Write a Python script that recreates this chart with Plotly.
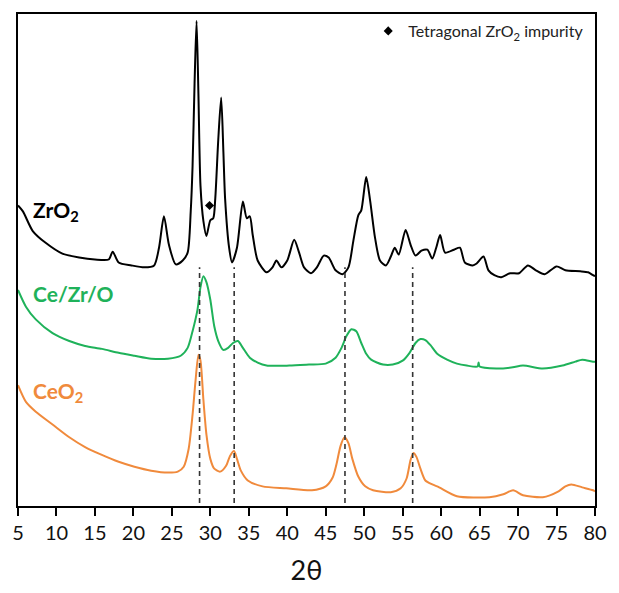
import plotly.graph_objects as go

# ---- data (2θ in degrees, intensity in arbitrary units, offset stacked) ----
zro2_x = [5.00, 5.64, 6.92, 8.59, 10.77, 12.95, 15.00, 16.79, 17.31, 18.08, 19.74, 21.41, 22.69,
          23.33, 23.97, 24.62, 25.51, 26.41, 27.05, 27.45, 27.69, 27.95, 28.21, 28.45, 28.72,
          29.10, 29.49, 30.00, 30.38, 30.64, 31.03, 31.41, 31.70, 31.92, 32.44, 32.82, 33.46,
          34.23, 34.74, 35.13, 35.51, 36.15, 37.31, 38.08, 38.59, 39.23, 40.00, 40.90, 41.54,
          42.18, 43.08, 43.85, 44.74, 45.38, 46.28, 47.18, 47.95, 48.59, 49.23, 49.62, 50.26,
          50.77, 51.41, 52.05, 52.82, 53.46, 53.97, 54.49, 55.38, 56.03, 56.67, 57.44, 58.21,
          58.85, 59.36, 59.87, 60.51, 61.67, 62.44, 63.08, 64.10, 64.62, 65.51, 66.15, 66.92,
          67.82, 68.97, 70.13, 71.28, 72.31, 73.46, 75.00, 76.15, 78.08, 79.10, 79.74, 80.00]
zro2_y = [306, 300, 280, 268, 257, 253, 251, 251, 259, 248, 245, 243, 245,
          263, 295, 266, 246, 250, 258, 300, 346, 430, 494, 420, 326,
          290, 275, 291, 293, 313, 373, 416, 360, 313, 263, 248, 263,
          310, 293, 295, 276, 250, 238, 243, 250, 243, 250, 271, 258,
          243, 237, 243, 255, 253, 240, 236, 243, 270, 296, 301, 335,
          311, 273, 250, 245, 254, 263, 256, 281, 266, 255, 260, 261,
          252, 263, 276, 258, 261, 263, 248, 245, 247, 254, 240, 235,
          233, 237, 237, 245, 240, 236, 244, 240, 239, 238, 235, 234]

cezro_x = [5.00, 6.03, 7.31, 9.49, 11.67, 13.72, 15.90, 18.08, 20.13, 22.31, 24.49, 26.15, 27.05,
           27.69, 28.33, 28.72, 29.10, 29.49, 30.00, 30.51, 31.03, 31.67, 32.31, 32.95, 33.59,
           34.23, 35.13, 36.15, 37.31, 40.26, 42.82, 45.00, 46.28, 47.05, 47.69, 48.33, 48.97,
           49.62, 50.26, 50.90, 52.44, 53.72, 55.00, 55.90, 56.67, 57.31, 57.95, 58.59, 59.49,
           60.77, 62.05, 63.33, 64.74, 64.87, 65.00, 67.18, 69.10, 70.64, 73.21, 75.77, 77.44,
           78.33, 79.74, 80.00]
cezro_y = [220, 203, 190, 176, 168, 163, 160, 156, 153, 150, 150, 153, 161,
           178, 200, 223, 234, 228, 210, 183, 168, 159, 161, 166, 168,
           161, 151, 146, 143, 143, 144, 145, 151, 161, 173, 180, 178,
           166, 155, 149, 144, 144, 148, 156, 166, 170, 169, 164, 155,
           149, 145, 143, 142, 146, 142, 140, 141, 143, 140, 143, 147,
           149, 147, 147]

ceo2_x = [5.00, 6.03, 7.31, 9.49, 11.67, 13.72, 15.90, 18.08, 20.13, 22.31, 24.49, 25.77, 26.54,
          27.18, 27.69, 28.08, 28.46, 28.72, 29.10, 29.49, 30.00, 30.51, 31.28, 32.05, 32.56,
          33.08, 33.46, 33.97, 34.87, 36.79, 39.87, 43.21, 45.00, 45.90, 46.41, 46.92, 47.44,
          47.95, 48.46, 49.23, 50.13, 51.15, 53.46, 54.74, 55.51, 56.03, 56.41, 56.79, 57.31,
          57.95, 58.85, 59.74, 62.05, 66.28, 68.08, 69.36, 70.64, 73.21, 75.26, 76.15, 76.92,
          78.33, 79.74, 80.00]
ceo2_y = [123, 106, 96, 83, 70, 60, 52, 45, 40, 36, 34, 35, 40,
          58, 93, 128, 154, 148, 108, 73, 48, 38, 35, 41, 51,
          56, 48, 36, 26, 20, 18, 16, 20, 29, 43, 61, 70,
          64, 48, 30, 20, 16, 14, 18, 28, 47, 54, 50, 38,
          26, 22, 19, 10, 9, 12, 16, 11, 9, 15, 20, 22,
          19, 16, 15]

ceo2_ref_peaks = [28.6, 33.1, 47.5, 56.3]   # dashed guide lines
guide_y = [3, 243]
impurity_x = [29.9]
impurity_y = [306]

labels = ["ZrO<sub>2</sub>", "Ce/Zr/O", "CeO<sub>2</sub>"]
label_y = [300, 216, 116]
tick_vals = list(range(5, 81, 5))

black = "#000000"
green = "#1fb25a"
orange = "#f08a3c"
FONT = "Lato"
SMOOTH = 0.7

fig = go.Figure()
for xs, ys, col in [(zro2_x, zro2_y, black), (cezro_x, cezro_y, green), (ceo2_x, ceo2_y, orange)]:
    fig.add_trace(go.Scatter(x=xs, y=ys, mode="lines",
                             line=dict(color=col, width=2, shape="spline", smoothing=SMOOTH),
                             showlegend=False, hoverinfo="skip"))
for px in ceo2_ref_peaks:
    fig.add_trace(go.Scatter(x=[px, px], y=guide_y, mode="lines",
                             line=dict(color="#333333", width=1.6, dash="5px,4px"),
                             showlegend=False, hoverinfo="skip"))
fig.add_trace(go.Scatter(x=impurity_x, y=impurity_y, mode="markers",
                         marker=dict(symbol="diamond", size=7, color=black),
                         name="Tetragonal ZrO<sub>2</sub> impurity", showlegend=True))

for txt, yy, col in zip(labels, label_y, [black, green, orange]):
    fig.add_annotation(x=6.7, y=yy, text="<b>" + txt + "</b>", showarrow=False,
                       xanchor="left", yanchor="middle",
                       font=dict(family=FONT, size=21, color=col))

fig.update_layout(
    width=619, height=593,
    margin=dict(l=13, r=17, t=12, b=80),
    paper_bgcolor="white", plot_bgcolor="white",
    font=dict(family=FONT, color="black"),
    legend=dict(x=0.99, y=1, xanchor="right", yanchor="top", bgcolor="rgba(0,0,0,0)",
                font=dict(family=FONT, size=16, color="#222222"), itemwidth=30,
                tracegroupgap=0),
    xaxis=dict(range=[5, 80], tickmode="array", tickvals=tick_vals,
               ticktext=[str(v) for v in tick_vals],
               showline=True, linecolor="black", linewidth=2, mirror=True,
               ticks="outside", ticklen=8, tickwidth=2, tickcolor="black",
               showgrid=False, zeroline=False,
               tickfont=dict(family=FONT, size=20, color="#111111"),
               title=dict(text="2θ", font=dict(family=FONT, size=27, color="#111111"), standoff=18)),
    yaxis=dict(range=[0, 501], showline=True, linecolor="black", linewidth=2, mirror=True,
               showticklabels=False, ticks="", showgrid=False, zeroline=False),
)

fig.write_html("out.html")
